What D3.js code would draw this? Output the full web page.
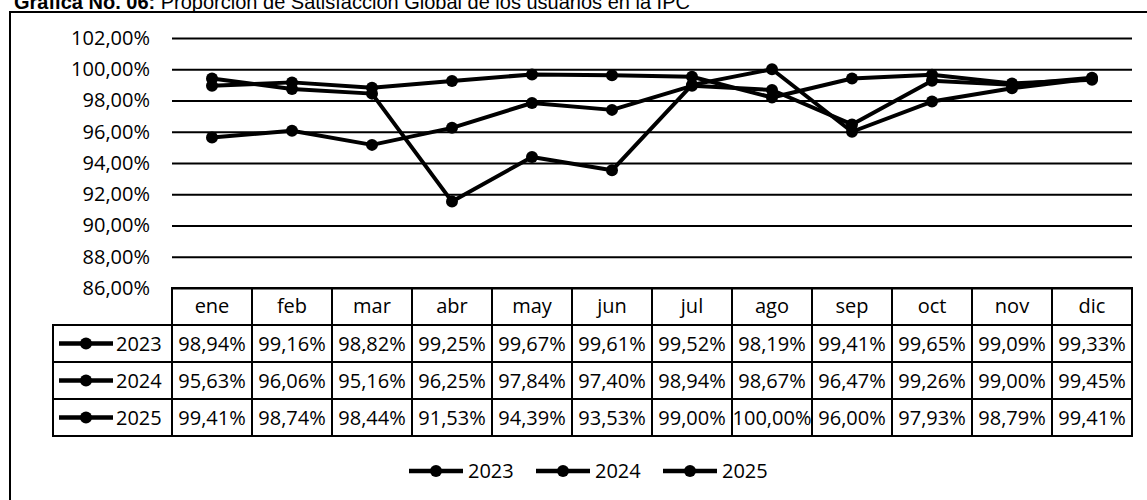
<!DOCTYPE html>
<html lang="es">
<head>
<meta charset="UTF-8" />
<script src="https://d3js.org/d3.v7.min.js"></script>
<title>Gráfica No. 06</title>
<style>
  body { margin: 0; background: #fff; }
  svg text { fill: #000; }
  .yAxis .domain { display: none; }
  .yAxis line { stroke: #000; stroke-width: 2; }
  .yAxis text { font-family: "Open Sans", sans-serif; font-size: 20px; }
  .cell { font-family: "Open Sans", sans-serif; font-size: 20px; }
</style>
</head>
<body>
<script>
const months = ["ene", "feb", "mar", "abr", "may", "jun", "jul", "ago", "sep", "oct", "nov", "dic"];
const years = ["2023", "2024", "2025"];
const v2023 = [98.94, 99.16, 98.82, 99.25, 99.67, 99.61, 99.52, 98.19, 99.41, 99.65, 99.09, 99.33];
const v2024 = [95.63, 96.06, 95.16, 96.25, 97.84, 97.40, 98.94, 98.67, 96.47, 99.26, 99.00, 99.45];
const v2025 = [99.41, 98.74, 98.44, 91.53, 94.39, 93.53, 99.00, 100.00, 96.00, 97.93, 98.79, 99.41];
const yTicks = [86, 88, 90, 92, 94, 96, 98, 100, 102];

const series = [
  { name: years[0], values: v2023 },
  { name: years[1], values: v2024 },
  { name: years[2], values: v2025 }
];

const fmt = v => v.toFixed(2).replace(".", ",") + "%";

const W = 1147, H = 500;
const svg = d3.select("body").append("svg").attr("width", W).attr("height", H);

// title, its top is cut off by the page edge like in the scan
const title = svg.append("text")
  .attr("x", 14).attr("y", 9)
  .style("font-family", "'Liberation Sans', Arial, sans-serif")
  .style("font-size", "20px");
title.append("tspan").style("font-weight", "bold").text("Gráfica No. 06:");
title.append("tspan").text(" Proporción de Satisfacción Global de los usuarios en la IPC");

// outer frame
svg.append("path")
  .attr("d", "M10,500 V12 H1147")
  .attr("fill", "none").attr("stroke", "#000").attr("stroke-width", 2);

const x = d3.scaleBand().domain(months).range([172, 1132]);
const y = d3.scaleLinear().domain([86, 102]).range([288, 38]);

const axisY = d3.axisLeft(y)
  .tickValues(yTicks)
  .tickSize(-(1132 - 172))
  .tickPadding(22)
  .tickFormat(d => d.toFixed(2).replace(".", ",") + "%");
svg.append("g").attr("class", "yAxis")
  .attr("transform", "translate(172,0)")
  .call(axisY);

// lines
const line = d3.line()
  .x((d, i) => x(months[i]) + x.bandwidth() / 2)
  .y(d => y(d));

const gLines = svg.append("g");
series.forEach(s => {
  gLines.append("path")
    .datum(s.values)
    .attr("d", line)
    .attr("fill", "none")
    .attr("stroke", "#000")
    .attr("stroke-width", 4)
    .attr("stroke-linejoin", "round");
  gLines.selectAll(null).data(s.values).join("circle")
    .attr("cx", (d, i) => x(months[i]) + x.bandwidth() / 2)
    .attr("cy", d => y(d))
    .attr("r", 6)
    .attr("fill", "#000");
});

// data table
const rowH = 37;
const tableTop = y(86);
const tableLeft = 53;
const table = svg.append("g");
const bw = x.bandwidth();

// header cells
months.forEach(m => {
  table.append("rect")
    .attr("x", x(m)).attr("y", tableTop).attr("width", bw).attr("height", rowH)
    .attr("fill", "none").attr("stroke", "#000").attr("stroke-width", 2);
  table.append("text").attr("class", "cell")
    .attr("x", x(m) + bw / 2).attr("y", tableTop + rowH / 2 + 6)
    .attr("text-anchor", "middle").text(m);
});

function legendKey(g, cx, cy) {
  g.append("line")
    .attr("x1", cx - 27).attr("x2", cx + 27).attr("y1", cy).attr("y2", cy)
    .attr("stroke", "#000").attr("stroke-width", 4.5);
  g.append("circle").attr("cx", cx).attr("cy", cy).attr("r", 6).attr("fill", "#000");
}

series.forEach((s, r) => {
  const ry = tableTop + rowH * (r + 1);
  table.append("rect")
    .attr("x", tableLeft).attr("y", ry).attr("width", 172 - tableLeft).attr("height", rowH)
    .attr("fill", "none").attr("stroke", "#000").attr("stroke-width", 2);
  legendKey(table, 86, ry + rowH / 2);
  table.append("text").attr("class", "cell")
    .attr("x", 116).attr("y", ry + rowH / 2 + 7).text(s.name);
  s.values.forEach((v, i) => {
    table.append("rect")
      .attr("x", x(months[i])).attr("y", ry).attr("width", bw).attr("height", rowH)
      .attr("fill", "none").attr("stroke", "#000").attr("stroke-width", 2);
    table.append("text").attr("class", "cell")
      .attr("x", x(months[i]) + bw / 2).attr("y", ry + rowH / 2 + 7)
      .attr("text-anchor", "middle").text(fmt(v));
  });
});

// legend
const legX = [436, 563, 690];
const legend = svg.append("g");
series.forEach((s, i) => {
  legendKey(legend, legX[i], 471);
  legend.append("text").attr("class", "cell")
    .attr("x", legX[i] + 32).attr("y", 478).text(s.name);
});
</script>
</body>
</html>
